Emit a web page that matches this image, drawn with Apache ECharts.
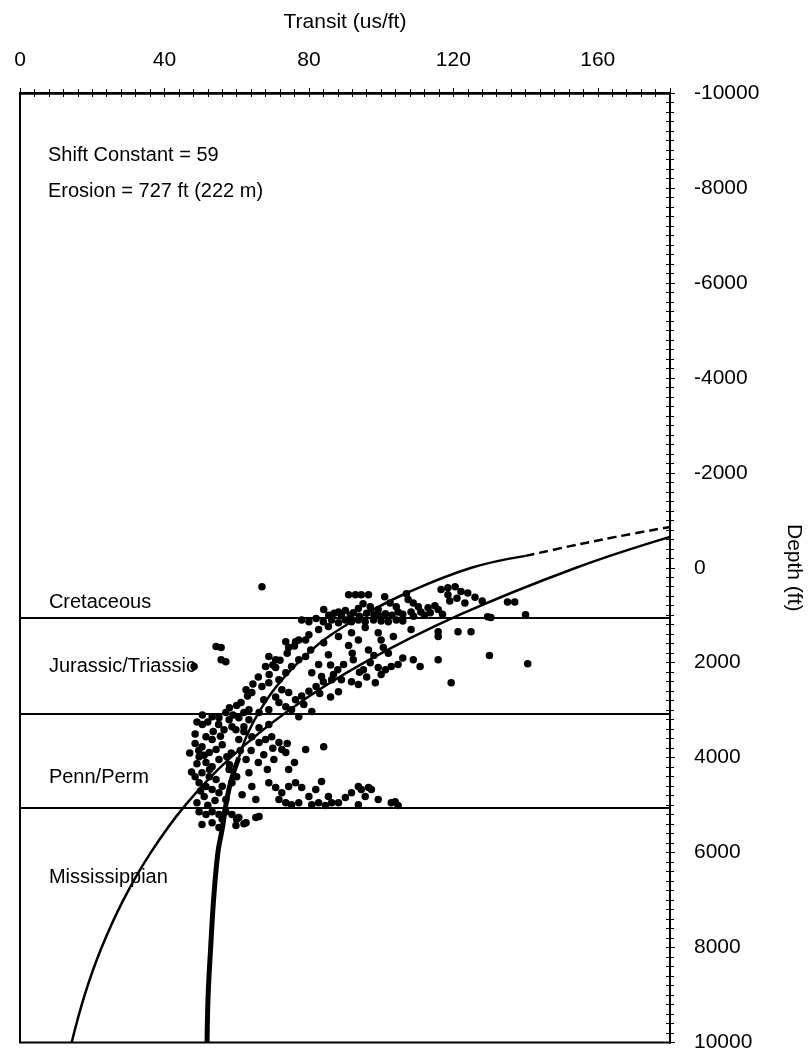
<!DOCTYPE html>
<html>
<head>
<meta charset="utf-8">
<script src="https://cdn.jsdelivr.net/npm/echarts@6/dist/echarts.min.js"></script>
<style>
  html, body { margin: 0; padding: 0; background: #ffffff; }
  #chart { width: 812px; height: 1053px; }
</style>
</head>
<body>
<div id="chart"></div>
<script>
// Sonic transit-time samples: [transit (us/ft), depth (ft)]
const samples = [
  [91.0,570],[92.9,570],[94.5,570],[96.5,570],[101.0,610],[107.0,550],[84.1,880],[90.1,900],
  [93.7,860],[97.0,820],[99.2,880],[101.2,970],[98.0,990],[107.5,670],[108.9,740],[110.3,820],
  [108.3,930],[111.0,930],[113.0,840],[114.9,800],[116.6,460],[118.5,420],[120.5,400],[122.1,500],
  [124.0,530],[118.5,570],[123.2,740],[115.8,880],[113.6,950],[135.0,720],[137.0,720],[140.0,990],
  [129.5,1030],[130.4,1050],[102.5,740],[104.2,820],[88.2,930],[92.3,950],[95.0,760],[104.7,930],
  [85.5,1000],[87.0,960],[89.0,1010],[91.5,1000],[94.0,1020],[96.0,960],[99.5,1010],[103.0,1000],
  [106.0,980],[109.0,1020],[112.0,1000],[117.0,980],[119.0,700],[121.0,640],[126.0,620],[128.0,700],
  [78.0,1100],[80.0,1140],[82.0,1070],[84.0,1140],[86.3,1100],[88.2,1160],[90.1,1100],[91.8,1140],
  [93.7,1100],[95.6,1140],[97.9,1100],[100.0,1120],[102.0,1140],[104.2,1100],[106.0,1120],[108.3,1300],
  [115.8,1350],[115.8,1450],[121.3,1350],[124.9,1350],[82.7,1300],[85.4,1240],[91.8,1370],[95.6,1260],
  [99.2,1370],[80.0,1410],[88.2,1450],[93.7,1520],[100.0,1520],[103.4,1450],[77.2,1520],[84.1,1580],
  [91.0,1640],[96.5,1730],[100.6,1680],[104.7,2040],[102.8,2080],[99.2,2100],[101.2,2150],[108.9,1940],
  [110.8,2080],[115.8,1940],[130.0,1850],[140.6,2020],[119.4,2420],[91.8,2400],[93.7,2460],[98.4,2420],
  [86.0,2720],[80.8,3030],[92.3,1940],[95.1,2150],[89.6,2040],[86.8,2250],[89.0,2360],[82.7,2040],
  [85.4,1830],[80.5,1730],[77.2,1940],[88.2,2610],
  [96.0,2300],[100.0,2250],[94.0,2200],[98.0,1850],[102.0,1800],[106.0,1900],[92.0,1800],[97.0,2000],
  [86.0,2050],[88.0,2150],[84.0,2400],[82.0,2500],[80.0,2600],[78.0,2700],[83.0,2650],
  [76.0,1650],[74.0,1800],[72.0,1950],[70.0,2050],[69.0,2250],[66.0,2300],[64.5,2450],[63.0,2700],
  [60.0,2900],[62.0,3050],[58.0,2950],
  [54.3,1660],[55.7,1680],[57.0,1980],[55.7,1940],[48.2,2080],[67.0,400],[68.0,2080],[70.8,2100],
  [68.9,1870],[70.8,1940],[73.6,1560],[76.3,1560],[79.1,1520],[74.4,1680],[62.6,2570],[64.2,2630],
  [61.2,2840],[67.0,2500],[68.9,2420],[71.7,2360],[73.6,2210],[75.2,2080],[79.1,1870],[80.8,2210],
  [83.5,2290],[86.3,2360],[76.3,2780],[73.6,2930],[75.2,2990],[71.7,2840],[68.9,2990],[66.2,3050],
  [70.8,2720],[67.5,2780],[63.4,2990],[72.5,2570],[53.2,3140],[55.1,3160],[78.6,2880],[74.4,2630],
  [50.5,3100],[57.0,3050],[59.0,3100],
  [51.5,3560],[53.2,3620],[50.4,3770],[52.4,3890],[54.3,3830],[49.6,3980],[51.5,4100],[53.2,4190],
  [55.1,4040],[50.4,4320],[52.4,4400],[54.3,4460],[51.5,4610],[49.6,4530],[53.2,4670],[55.1,4740],
  [51.0,4820],[49.0,4130],[56.0,3730],[57.3,3980],[57.9,4250],[58.7,4530],[57.0,4880],[59.8,3410],
  [60.6,3620],[58.7,3350],[62.0,3350],[64.2,3560],[66.2,3680],[68.0,3620],[69.7,3560],[71.7,3680],
  [72.5,3830],[73.6,3890],[79.1,3830],[84.1,3770],[62.6,4040],[63.4,4320],[64.2,4610],[61.5,4780],
  [65.3,4880],[66.2,3370],[68.9,3300],[63.4,3200],[60.6,3160],[57.9,3200],[56.5,3410],
  [48.5,3700],[49.5,3850],[51.0,3950],[52.5,4250],[48.5,4400],[50.0,4700],[52.0,5000],[54.0,4900],
  [56.0,4600],[58.0,4150],[55.5,3550],[53.5,3450],[50.5,3300],[48.5,3500],[47.0,3900],[47.5,4300],
  [49.0,4950],[58.5,3900],[60.0,4400],[61.0,3850],[64.0,3850],[66.0,4100],[68.5,4250],[70.0,3800],
  [74.0,3700],[76.0,4100],[62.0,3450],[55.0,3300],[52.0,3250],[49.0,3250],
  [68.9,4530],[70.8,4630],[72.5,4740],[74.4,4610],[76.3,4530],[78.0,4630],[80.0,4820],[81.9,4670],
  [83.5,4500],[85.4,4820],[88.2,4950],[90.1,4840],[91.8,4740],[93.7,4610],[95.6,4820],[97.3,4670],
  [99.2,4880],[71.7,4880],[73.6,4950],[75.2,4990],[77.2,4950],[80.8,4990],[82.7,4950],[84.6,5010],
  [86.3,4950],[93.7,4990],[102.8,4950],[104.7,5010],[94.5,4670],[96.5,4630],[103.9,4930],
  [77.2,3140],[67.5,3940],[70.3,4040],[74.4,4250],
  [49.6,5140],[51.5,5200],[53.2,5140],[55.1,5200],[57.0,5140],[58.7,5200],[60.6,5260],[62.6,5370],
  [65.3,5260],[50.4,5410],[53.2,5370],[55.1,5470],[59.8,5430],[62.0,5390],[66.2,5240],[56.0,5300],
  [60.0,5300]
];

// Normal compaction trend (thin solid curve): [transit, depth]
const compactionTrend = [
  [14.3,10000],[17.9,9000],[22.6,8000],[28.6,7000],[36.2,6000],[45.8,5000],
  [58.3,4000],[74.5,3000],[95.3,2000],[121.5,1000],[154.0,0],[180.0,-650]
];

// Shifted trend, deep part (heavy stroke)
const shiftedTrendDeep = [
  [51.8,10000],[52.1,9000],[52.8,8000],[53.6,7000],[54.8,6000],[56.0,5500],[57.0,5000],[58.4,4500],[60.6,4000]
];
// Shifted trend through the data
const shiftedTrendMid = [
  [60.6,4000],[63.0,3500],[66.5,3000],[71.0,2500],[77.0,2000],[84.5,1500],[95.0,1000],[108.0,500],[125.0,0],[140.0,-250]
];
// Shifted trend extrapolated to the eroded surface (dashed)
const shiftedTrendUp = [
  [140.0,-250],[152.0,-450],[165.0,-650],[180.0,-860]
];

// Formation tops (ft)
const formationTops = [1050, 3070, 5050];
const formationNames = ['Cretaceous', 'Jurassic/Triassic', 'Penn/Perm', 'Mississippian'];
const notes = ['Shift Constant = 59', 'Erosion = 727 ft (222 m)'];

// label anchor depths for the formation names
const formationLabelDepths = [740, 2080, 4420, 6530];

const FONT = 'Liberation Sans, Arial, Helvetica, sans-serif';
const chart = echarts.init(document.getElementById('chart'), null, { renderer: 'canvas' });

const axisCommon = {
  type: 'value',
  axisLine: { show: true, onZero: false, lineStyle: { color: '#000', width: 2 } },
  splitLine: { show: false },
  minorSplitLine: { show: false }
};

chart.setOption({
  animation: false,
  backgroundColor: '#ffffff',
  textStyle: { fontFamily: FONT, color: '#000' },
  grid: { left: 20, right: 138, top: 93, bottom: 9, show: true, borderColor: '#000', borderWidth: 2 },
  xAxis: [
    Object.assign({}, axisCommon, {
      position: 'top', min: 0, max: 180, interval: 40,
      axisLine: { show: true, onZero: false, lineStyle: { color: '#000', width: 2.5 } },
      name: 'Transit (us/ft)', nameLocation: 'middle', nameGap: 60,
      nameTextStyle: { fontSize: 21, color: '#000', fontFamily: FONT },
      axisTick: { show: true, length: 5, inside: false, lineStyle: { color: '#000', width: 1 } },
      minorTick: { show: true, splitNumber: 10, length: 4, lineStyle: { color: '#000', width: 1 } },
      axisLabel: { fontSize: 21, color: '#000', margin: 22, fontFamily: FONT, showMaxLabel: false }
    }),
    Object.assign({}, axisCommon, {
      position: 'top', min: 0, max: 180, interval: 40,
      axisTick: { show: true, length: 4, inside: true, lineStyle: { color: '#000', width: 1 } },
      minorTick: { show: true, splitNumber: 10, length: 4, lineStyle: { color: '#000', width: 1 } },
      axisLabel: { show: false }
    })
  ],
  yAxis: [
    Object.assign({}, axisCommon, {
      position: 'right', min: -10000, max: 10000, interval: 2000, inverse: true,
      name: 'Depth (ft)', nameLocation: 'middle', nameGap: 113, nameRotate: -90,
      nameTextStyle: { fontSize: 21, color: '#000', fontFamily: FONT },
      axisTick: { show: true, length: 5, inside: false, lineStyle: { color: '#000', width: 1 } },
      minorTick: { show: true, splitNumber: 10, length: 4, lineStyle: { color: '#000', width: 1 } },
      axisLabel: { fontSize: 21, color: '#000', margin: 24, fontFamily: FONT, align: 'left',
        formatter: v => String(v) }
    }),
    Object.assign({}, axisCommon, {
      position: 'right', min: -10000, max: 10000, interval: 2000, inverse: true,
      axisTick: { show: true, length: 4, inside: true, lineStyle: { color: '#000', width: 1 } },
      minorTick: { show: true, splitNumber: 10, length: 4, lineStyle: { color: '#000', width: 1 } },
      axisLabel: { show: false }
    })
  ],
  graphic: [
    { type: 'text', left: 48, top: 145, style: { text: notes[0], font: '20px ' + FONT, fill: '#000' } },
    { type: 'text', left: 48, top: 181, style: { text: notes[1], font: '20px ' + FONT, fill: '#000' } }
  ],
  series: [
    {
      type: 'line', name: 'tops', data: [], symbol: 'none',
      markLine: {
        silent: true, symbol: 'none', animation: false,
        lineStyle: { color: '#000', width: 2, type: 'solid' },
        label: { show: false },
        data: formationTops.map(d => ({ yAxis: d }))
      }
    },
    {
      type: 'scatter', name: 'samples', data: samples, symbol: 'circle', symbolSize: 7.5,
      itemStyle: { color: '#000', opacity: 1 }, z: 3
    },
    {
      type: 'line', name: 'compaction', data: compactionTrend, smooth: 0.4, symbol: 'none',
      lineStyle: { color: '#000', width: 2.5 }, z: 4
    },
    {
      type: 'line', name: 'shiftedDeep', data: shiftedTrendDeep, smooth: 0.4, symbol: 'none',
      lineStyle: { color: '#000', width: 5 }, z: 4
    },
    {
      type: 'line', name: 'shiftedMid', data: shiftedTrendMid, smooth: 0.4, symbol: 'none',
      lineStyle: { color: '#000', width: 2.5 }, z: 4
    },
    {
      type: 'line', name: 'shiftedUp', data: shiftedTrendUp, smooth: 0.4, symbol: 'none',
      lineStyle: { color: '#000', width: 2.5, type: [9, 5] }, z: 4
    },
    {
      type: 'scatter', name: 'formations', symbolSize: 0, silent: true, z: 5,
      itemStyle: { opacity: 1 },
      data: formationNames.map((n, i) => ({ value: [8, formationLabelDepths[i]], name: n })),
      label: { show: true, position: 'right', distance: 0, formatter: p => p.name,
        fontSize: 20, color: '#000', fontFamily: FONT }
    }
  ]
});
</script>
</body>
</html>
